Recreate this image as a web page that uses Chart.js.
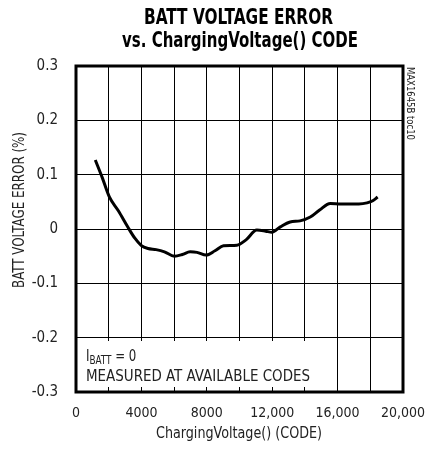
<!DOCTYPE html>
<html>
<head>
<meta charset="utf-8">
<script src="https://cdn.jsdelivr.net/npm/chart.js@4.4.1/dist/chart.umd.min.js"></script>
<style>
  html, body { margin: 0; padding: 0; background: #fff; }
  #chart { display: block; }
</style>
</head>
<body>
<canvas id="chart" width="425" height="453"></canvas>
<script>
// curve: ChargingVoltage() code vs error (%)
var codes = [1180, 1600, 2040, 2600, 3160, 3600, 3980, 4400, 4900, 5410, 6020, 6500,
  6980, 7400, 7960, 8500, 9020, 9840, 10400, 11060, 11600, 11980, 12500, 13100,
  13700, 14330, 14900, 15550, 16200, 16770, 17300, 17800, 18150, 18450];
var errors = [0.127, 0.095, 0.059, 0.033, 0.004, -0.017, -0.030, -0.036, -0.038, -0.042, -0.050, -0.047,
  -0.042, -0.043, -0.048, -0.040, -0.031, -0.030, -0.020, -0.002, -0.004, -0.006, 0.004, 0.013,
  0.015, 0.022, 0.035, 0.047, 0.046, 0.046, 0.046, 0.048, 0.052, 0.059];

var xTickLabels = ["0", "", "4000", "", "8000", "", "12,000", "", "16,000", "", "20,000"];
var yTickLabels = ["-0.3", "-0.2", "-0.1", "0", "0.1", "0.2", "0.3"];

var NARROW = "'Liberation Sans Narrow', 'DejaVu Sans Condensed', sans-serif";
var INK = "#222";

// squeeze a string horizontally so it fills the given width
function fitText(ctx, text, x, y, width, align) {
  var w = ctx.measureText(text).width;
  var k = width / w;
  ctx.save();
  ctx.textAlign = "left";
  var left = align === "center" ? x - width / 2 : x;
  ctx.translate(left, y);
  ctx.scale(k, 1);
  ctx.fillText(text, 0, 0);
  ctx.restore();
}

// title, axis titles, frame and the note box
var decorations = {
  id: "decorations",
  beforeDatasetsDraw: function(chart) {
    var ctx = chart.ctx, a = chart.chartArea;
    ctx.save();
    ctx.fillStyle = "#fff";
    ctx.fillRect(a.left, 341, 320 - a.left, 46);
    ctx.restore();
  },
  afterDraw: function(chart) {
    var ctx = chart.ctx, a = chart.chartArea;
    ctx.save();

    // frame
    ctx.strokeStyle = "#000";
    ctx.lineWidth = 3;
    ctx.strokeRect(a.left, a.top, a.right - a.left, a.bottom - a.top);

    // title
    ctx.fillStyle = "#000";
    ctx.textBaseline = "alphabetic";
    ctx.font = "bold 22px " + NARROW;
    fitText(ctx, "BATT VOLTAGE ERROR", 238.5, 24, 189, "center");
    fitText(ctx, "vs. ChargingVoltage() CODE", 240, 47, 236, "center");

    // axis titles
    ctx.fillStyle = INK;
    ctx.font = "16px " + NARROW;
    fitText(ctx, "ChargingVoltage() (CODE)", 239, 438, 166, "center");
    ctx.save();
    ctx.translate(24, 210);
    ctx.rotate(-Math.PI / 2);
    fitText(ctx, "BATT VOLTAGE ERROR (%)", 0, 0, 156, "center");
    ctx.restore();

    // side label
    ctx.save();
    ctx.translate(407, 67);
    ctx.rotate(Math.PI / 2);
    ctx.font = "10px " + NARROW;
    fitText(ctx, "MAX1645B toc10", 0, 0, 73, "left");
    ctx.restore();

    // note
    ctx.font = "16px " + NARROW;
    var k = 0.82;
    ctx.save();
    ctx.translate(86, 361);
    ctx.scale(k, 1);
    var x = 0;
    ctx.fillText("I", x, 0);
    x += ctx.measureText("I").width;
    ctx.font = "12px " + NARROW;
    ctx.fillText("BATT", x, 3);
    x += ctx.measureText("BATT").width;
    ctx.font = "16px " + NARROW;
    ctx.fillText(" = 0", x, 0);
    ctx.restore();
    fitText(ctx, "MEASURED AT AVAILABLE CODES", 86, 381, 224, "left");

    ctx.restore();
  }
};

var ctx = document.getElementById("chart").getContext("2d");
var chart = new Chart(ctx, {
  type: "line",
  data: {
    datasets: [{
      data: codes.map(function(c, i) { return { x: c, y: errors[i] }; }),
      borderColor: "#000",
      borderWidth: 3,
      pointRadius: 0,
      fill: false,
      cubicInterpolationMode: "monotone"
    }]
  },
  options: {
    responsive: false,
    animation: false,
    layout: { padding: { top: 66, right: 22, left: 0, bottom: 0 } },
    plugins: {
      legend: { display: false },
      tooltip: { enabled: false },
      title: { display: false }
    },
    scales: {
      x: {
        type: "linear",
        min: 0,
        max: 20000,
        afterFit: function(s) { s.height = 61; s.paddingLeft = 0; s.paddingRight = 0; },
        grid: { color: "#000", lineWidth: 1, drawTicks: false },
        border: { display: false },
        ticks: {
          stepSize: 2000,
          autoSkip: false,
          maxRotation: 0,
          padding: 13,
          color: INK,
          font: { family: NARROW, size: 14 },
          callback: function(value) {
            return xTickLabels[Math.round(value / 2000)];
          }
        }
      },
      y: {
        min: -0.3,
        max: 0.3,
        afterFit: function(s) { s.width = 76; s.paddingTop = 0; s.paddingBottom = 0; },
        grid: { color: "#000", lineWidth: 1, drawTicks: false },
        border: { display: false },
        ticks: {
          stepSize: 0.1,
          padding: 18,
          color: INK,
          font: { family: NARROW, size: 15 },
          callback: function(value) {
            return yTickLabels[Math.round(value * 10) + 3];
          }
        }
      }
    }
  },
  plugins: [decorations]
});
</script>
</body>
</html>
